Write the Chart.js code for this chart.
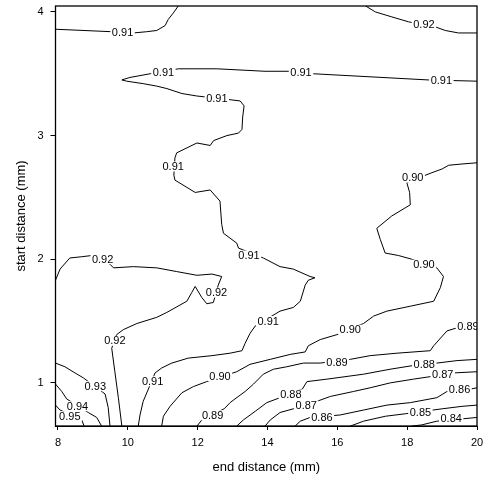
<!DOCTYPE html>
<html>
<head>
<meta charset="utf-8">
<script src="https://cdn.jsdelivr.net/npm/chart.js@4/dist/chart.umd.min.js"></script>
<style>
html,body{margin:0;padding:0;background:#fff;}
canvas{display:block;}
</style>
</head>
<body>
<canvas id="c" width="487" height="478"></canvas>
<script>
// axis ticks
const xTicks = [8, 10, 12, 14, 16, 18, 20];
const yTicks = [1, 2, 3, 4];
const xTitle = 'end distance (mm)';
const yTitle = 'start distance (mm)';

// contour lines: [end distance, start distance]
const c091_top = [[7.93,3.86],[9.54,3.84],[10.16,3.83],[10.54,3.84],[10.83,3.85],[11.07,3.89],[11.16,3.94],[11.30,3.99],[11.45,4.05]];
const c092_top = [[16.80,4.05],[17.09,4.00],[17.56,3.96],[18.04,3.92],[18.80,3.88],[19.09,3.85],[19.47,3.83],[20.00,3.83]];
const c091_main = [[20.00,3.44],[18.60,3.45],[15.31,3.50],[14.59,3.52],[13.93,3.52],[12.55,3.54],[11.45,3.54],[10.64,3.50],[10.06,3.47],[9.83,3.45],[9.97,3.44],[10.44,3.42],[10.83,3.40],[11.12,3.38],[11.55,3.34],[11.98,3.32],[12.93,3.29],[13.22,3.28],[13.33,3.24],[13.29,3.15],[13.27,3.05],[13.17,3.02],[12.84,3.00],[12.46,2.96],[12.36,2.92],[11.98,2.94],[11.40,2.86],[11.35,2.82],[11.32,2.68],[11.35,2.64],[11.93,2.54],[12.36,2.56],[12.64,2.47],[12.69,2.28],[12.74,2.21],[13.12,2.13],[13.17,2.09],[13.88,2.01],[14.36,1.94],[14.74,1.92],[15.22,1.86],[15.36,1.85],[15.17,1.83],[15.08,1.79],[14.94,1.66],[14.74,1.61],[14.36,1.58],[13.65,1.46],[13.50,1.40],[13.36,1.32],[13.27,1.26],[12.93,1.24],[12.41,1.22],[11.73,1.20],[11.26,1.16],[10.97,1.12],[10.78,1.08],[10.59,0.95],[10.44,0.85],[10.35,0.74],[10.30,0.65]];
const c090 = [[20.00,2.78],[19.57,2.77],[19.19,2.76],[19.00,2.73],[18.71,2.70],[17.99,2.62],[18.07,2.54],[18.09,2.44],[17.56,2.35],[17.13,2.25],[17.23,2.16],[17.37,2.05],[17.75,2.03],[18.13,2.00],[18.85,1.93],[19.04,1.86],[18.95,1.77],[18.76,1.66],[18.09,1.62],[17.42,1.58],[17.04,1.54],[16.75,1.48],[15.99,1.39],[15.51,1.35],[15.17,1.30],[15.08,1.25],[14.65,1.23],[14.08,1.19],[13.50,1.15],[13.12,1.09],[12.26,1.01],[11.88,0.97],[11.55,0.92],[11.21,0.81],[11.02,0.73],[10.97,0.65]];
const c092_left = [[7.93,1.83],[8.06,1.92],[8.34,2.01],[8.68,2.02],[8.97,2.03],[9.49,1.96],[9.59,1.93],[10.16,1.94],[10.83,1.93],[11.40,1.90],[11.98,1.87],[12.41,1.88],[12.69,1.86],[12.59,1.79],[12.45,1.65],[12.26,1.64],[12.12,1.69],[11.93,1.78],[11.83,1.73],[11.69,1.66],[11.12,1.57],[10.83,1.53],[10.26,1.48],[9.87,1.43],[9.68,1.39],[9.54,1.28],[9.63,1.09],[9.73,0.88],[9.83,0.65]];
const c093 = [[7.93,1.16],[8.20,1.13],[8.49,1.08],[8.73,1.04],[9.35,0.91],[9.44,0.80],[9.49,0.65]];
const c094 = [[7.93,0.99],[8.11,0.93],[8.25,0.87],[8.87,0.76],[9.11,0.72],[9.25,0.65]];
const c095 = [[7.93,0.82],[8.06,0.78],[8.68,0.70],[8.75,0.65]];
const c089 = [[20.00,1.46],[19.37,1.44],[19.14,1.42],[18.76,1.30],[18.66,1.26],[17.71,1.24],[16.94,1.22],[16.37,1.19],[15.51,1.16],[15.03,1.16],[14.55,1.13],[14.17,1.11],[13.88,1.07],[13.60,0.99],[13.36,0.93],[13.07,0.87],[12.93,0.84],[12.76,0.79],[12.12,0.70],[11.98,0.65]];
const c088 = [[20.00,1.19],[19.43,1.18],[18.85,1.16],[18.17,1.14],[17.51,1.11],[16.75,1.07],[15.70,1.03],[15.13,1.01],[15.00,0.95],[14.36,0.88],[13.98,0.84],[13.65,0.77],[13.31,0.70],[13.12,0.65]];
const c087 = [[20.00,1.09],[19.32,1.08],[18.66,1.05],[18.18,1.03],[17.52,1.00],[16.94,0.96],[16.46,0.93],[15.80,0.89],[15.41,0.85],[14.74,0.79],[14.36,0.76],[14.08,0.70],[13.93,0.65]];
const c086 = [[20.00,0.96],[19.81,0.95],[19.14,0.93],[18.85,0.88],[18.09,0.84],[17.42,0.82],[16.75,0.78],[16.08,0.74],[15.22,0.72],[14.94,0.69],[14.79,0.65]];
const c085 = [[20.00,0.82],[19.57,0.81],[19.00,0.79],[17.95,0.75],[17.38,0.73],[16.75,0.69],[16.37,0.65]];
const c084 = [[20.00,0.72],[18.85,0.69],[18.42,0.66],[18.14,0.65]];

// contour labels
const labelText = ['0.91','0.92','0.91','0.91','0.91','0.91','0.91','0.91','0.91','0.91','0.90','0.90','0.90','0.90','0.92','0.92','0.92','0.93','0.94','0.95','0.89','0.89','0.89','0.88','0.88','0.87','0.87','0.86','0.86','0.85','0.84'];
const labelX = [9.85,18.48,18.98,14.96,11.02,12.55,11.30,13.47,14.02,10.71,18.16,18.48,16.37,12.64,9.28,12.54,9.63,9.07,8.56,8.34,19.74,15.99,12.43,18.49,14.67,19.02,15.11,19.50,15.56,18.38,19.26];
const labelY = [3.83,3.895,3.443,3.507,3.51,3.30,2.75,2.03,1.50,1.013,2.66,1.956,1.43,1.053,2.00,1.73,1.34,0.973,0.811,0.73,1.46,1.162,0.738,1.148,0.906,1.067,0.817,0.946,0.722,0.758,0.709];

const contours = [c091_top, c092_top, c091_main, c090, c092_left, c093, c094, c095, c089, c088, c087, c086, c085, c084];

const FONT = "'Liberation Sans', Arial, Helvetica, sans-serif";

const labelPlugin = {
  id: 'contourLabels',
  afterDatasetsDraw(chart) {
    const ctx = chart.ctx;
    const xs = chart.scales.x, ys = chart.scales.y;
    const a = chart.chartArea;
    ctx.save();
    ctx.beginPath();
    ctx.rect(a.left, a.top, a.right - a.left, a.bottom - a.top);
    ctx.clip();
    ctx.font = '11px ' + FONT;
    ctx.textAlign = 'center';
    ctx.textBaseline = 'middle';
    for (let i = 0; i < labelText.length; i++) {
      const px = xs.getPixelForValue(labelX[i]);
      const py = ys.getPixelForValue(labelY[i]);
      const w = ctx.measureText(labelText[i]).width;
      ctx.fillStyle = '#fff';
      ctx.fillRect(px - w / 2 - 1.5, py - 5, w + 3, 10);
      ctx.fillStyle = '#000';
      ctx.fillText(labelText[i], px, py + 0.5);
    }
    ctx.restore();
  },
  afterDraw(chart) {
    const ctx = chart.ctx;
    const a = chart.chartArea;
    ctx.save();
    ctx.strokeStyle = '#000';
    ctx.lineWidth = 1.3;
    ctx.strokeRect(a.left, a.top, a.right - a.left, a.bottom - a.top);
    ctx.restore();
  }
};

new Chart(document.getElementById('c'), {
  type: 'scatter',
  data: {
    datasets: contours.map(c => ({
      data: c.map(p => ({x: p[0], y: p[1]})),
      showLine: true,
      borderColor: '#000',
      borderWidth: 1,
      pointRadius: 0,
      tension: 0,
      fill: false
    }))
  },
  options: {
    responsive: false,
    animation: false,
    devicePixelRatio: 1,
    layout: {padding: {left: 0, right: 10, top: 6, bottom: 0}},
    plugins: {legend: {display: false}, tooltip: {enabled: false}},
    scales: {
      x: {
        type: 'linear',
        min: 7.93,
        max: 20,
        afterBuildTicks: s => { s.ticks = xTicks.map(v => ({value: v})); },
        afterFit: s => { s.height = 52; s.paddingLeft = 0; s.paddingRight = 0; },
        ticks: {color: '#000', font: {family: FONT, size: 11}, padding: 6, maxRotation: 0, callback: v => String(v)},
        grid: {drawOnChartArea: false, drawTicks: true, tickLength: 4, color: '#000'},
        border: {display: true, color: '#000', width: 1},
        title: {display: true, text: xTitle, color: '#000', font: {family: FONT, size: 13}, padding: {top: 0, bottom: 3}}
      },
      y: {
        type: 'linear',
        min: 0.651,
        max: 4.048,
        afterBuildTicks: s => { s.ticks = yTicks.map(v => ({value: v})); },
        afterFit: s => { s.width = 55.5; s.paddingTop = 0; s.paddingBottom = 0; },
        ticks: {color: '#000', font: {family: FONT, size: 11}, padding: 7, callback: v => String(v)},
        grid: {drawOnChartArea: false, drawTicks: true, tickLength: 5, color: '#000'},
        border: {display: true, color: '#000', width: 1},
        title: {display: true, text: yTitle, color: '#000', font: {family: FONT, size: 13}, padding: {top: 14, bottom: 0}}
      }
    }
  },
  plugins: [labelPlugin]
});
</script>
</body>
</html>
